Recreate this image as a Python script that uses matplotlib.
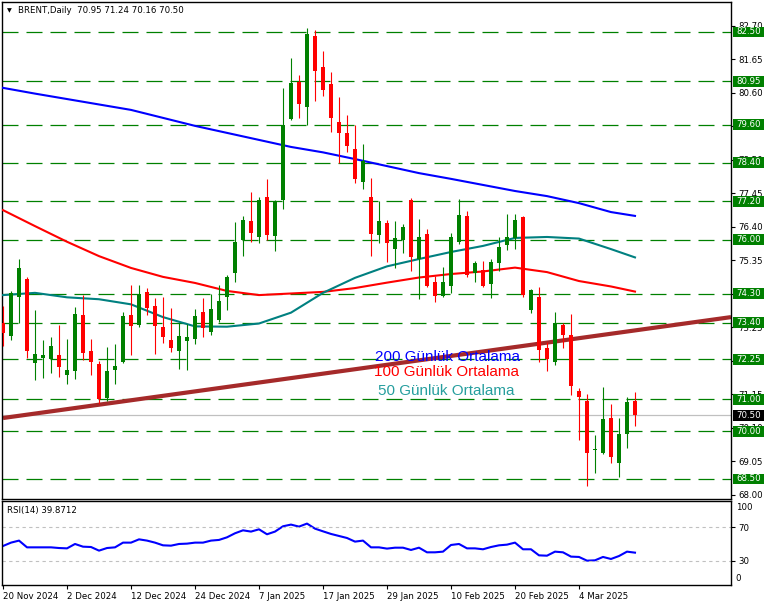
import numpy as np
import matplotlib.pyplot as plt
import matplotlib.transforms as mtransforms
from matplotlib.patches import Rectangle

# daily candles, 20 Nov 2024 .. 13 Mar 2025
opens = [73.38, 72.99, 74.21, 74.76, 72.14, 72.30, 72.27, 72.37, 71.77, 71.89,
         73.64, 72.51, 72.10, 71.03, 71.92, 72.17, 73.64, 73.33, 74.36, 73.92,
         73.26, 72.85, 72.52, 72.83, 72.89, 73.73, 73.11, 73.49, 74.21, 74.94,
         75.99, 76.58, 76.09, 77.34, 76.11, 77.24, 79.77, 80.93, 80.16, 82.37,
         81.40, 80.87, 79.68, 79.34, 78.83, 77.81, 77.33, 76.14, 76.52, 75.71,
         75.99, 77.24, 75.38, 76.17, 74.68, 74.23, 74.54, 75.93, 76.74, 74.94,
         75.05, 74.61, 75.27, 75.83, 76.04, 76.70, 73.79, 74.21, 72.60, 72.17,
         73.32, 73.01, 71.26, 70.95, 69.41, 69.32, 70.42, 69.01, 69.92, 70.95]
highs = [73.92, 74.39, 75.39, 74.83, 73.79, 72.85, 72.95, 73.32, 72.88, 73.89,
         74.26, 72.88, 72.20, 72.63, 72.73, 73.73, 74.58, 74.58, 74.48, 74.17,
         74.20, 73.86, 73.38, 73.35, 73.82, 74.17, 74.29, 74.58, 74.89, 76.56,
         76.74, 77.50, 77.33, 77.90, 77.24, 80.75, 81.68, 81.15, 82.62, 82.56,
         81.90, 81.25, 80.46, 79.90, 79.59, 78.99, 77.92, 77.21, 76.62, 76.58,
         76.49, 77.29, 76.63, 76.32, 74.86, 75.13, 76.19, 77.27, 76.90, 75.34,
         75.34, 75.38, 76.09, 76.80, 76.80, 76.74, 74.45, 74.51, 72.80, 73.72,
         73.38, 73.67, 71.35, 71.15, 69.88, 71.39, 70.85, 70.42, 71.08, 71.24]
lows = [72.67, 72.85, 73.38, 72.30, 71.61, 71.67, 71.83, 71.70, 71.48, 71.64,
        72.23, 71.77, 70.85, 70.95, 71.48, 72.14, 72.38, 73.27, 73.65, 72.42,
        72.77, 72.49, 71.95, 71.92, 72.74, 72.96, 73.01, 73.42, 73.80, 74.68,
        75.49, 75.91, 75.89, 75.99, 75.65, 76.96, 79.74, 79.82, 79.59, 80.35,
        80.50, 79.38, 78.39, 78.75, 77.76, 77.57, 75.48, 75.88, 75.31, 75.12,
        75.57, 75.02, 74.13, 74.52, 74.05, 74.20, 74.33, 75.85, 74.84, 74.67,
        74.52, 74.16, 75.02, 75.67, 75.69, 74.20, 73.69, 72.17, 71.89, 72.07,
        72.59, 71.13, 69.72, 68.28, 68.70, 69.27, 69.01, 68.57, 69.46, 70.16]
closes = [73.06, 74.32, 75.12, 72.52, 72.41, 72.38, 72.67, 72.02, 71.91, 73.67,
          72.46, 72.17, 71.00, 71.88, 72.04, 73.60, 73.30, 74.28, 73.86, 73.30,
          72.96, 72.61, 72.98, 72.95, 73.60, 73.24, 73.82, 74.07, 74.84, 75.91,
          76.61, 76.21, 77.24, 76.14, 77.21, 79.59, 80.91, 80.25, 82.45, 81.29,
          80.69, 79.82, 79.35, 78.94, 77.89, 78.46, 76.17, 76.58, 75.90, 76.05,
          76.39, 75.44, 76.08, 74.54, 74.23, 74.68, 76.09, 76.77, 74.89, 75.27,
          74.54, 75.29, 75.76, 76.07, 76.61, 74.26, 74.42, 72.54, 72.26, 73.38,
          73.01, 71.41, 71.08, 69.32, 69.44, 70.38, 69.20, 69.91, 70.91, 70.50]

# moving averages, read every 4th bar
ma_idx = [0, 4, 8, 12, 16, 20, 24, 28, 32, 36, 40, 44, 48, 52, 56, 60, 64, 68, 72, 76, 79]
ma200 = [80.75, 80.57, 80.40, 80.23, 80.06, 79.81, 79.56, 79.34, 79.12, 78.90, 78.73,
         78.52, 78.30, 78.08, 77.90, 77.71, 77.52, 77.36, 77.14, 76.86, 76.74]
ma100 = [76.92, 76.42, 75.93, 75.48, 75.11, 74.83, 74.64, 74.39, 74.26, 74.31, 74.36,
         74.48, 74.65, 74.81, 74.92, 75.00, 75.12, 74.98, 74.70, 74.53, 74.37]
ma50 = [74.26, 74.33, 74.19, 74.13, 73.97, 73.57, 73.28, 73.27, 73.37, 73.71, 74.33,
        74.80, 75.16, 75.39, 75.61, 75.80, 76.05, 76.08, 76.03, 75.70, 75.44]

rsi = [47.8, 51.8, 54.2, 46.2, 46.2, 46.2, 46.2, 45.4, 45.0, 50.2,
       47.0, 46.6, 42.3, 45.4, 46.2, 51.8, 51.8, 55.7, 54.2, 51.8,
       48.6, 48.2, 50.2, 50.6, 51.8, 51.8, 54.2, 55.0, 58.1, 62.9,
       66.4, 64.9, 67.6, 61.7, 64.9, 71.2, 73.2, 70.8, 74.4, 68.4,
       65.2, 62.1, 59.7, 57.3, 53.0, 54.2, 46.2, 46.2, 44.7, 45.8,
       45.8, 43.1, 45.8, 40.3, 40.3, 41.1, 49.0, 50.2, 45.0, 45.0,
       43.9, 46.6, 48.6, 49.4, 51.8, 43.9, 43.9, 36.7, 36.3, 41.1,
       40.3, 35.2, 34.8, 30.4, 30.8, 34.8, 32.4, 35.9, 41.1, 39.9]

date_ticks = [0, 8, 16, 24, 32, 40, 48, 56, 64, 72]
date_labels = ['20 Nov 2024', '2 Dec 2024', '12 Dec 2024', '24 Dec 2024', '7 Jan 2025',
               '17 Jan 2025', '29 Jan 2025', '10 Feb 2025', '20 Feb 2025', '4 Mar 2025']

levels = [82.50, 80.95, 79.60, 78.40, 77.20, 76.00, 74.30, 73.40, 72.25, 71.00, 70.00, 68.50]
last_price = 70.50
price_ticks = [68.00, 69.05, 70.10, 71.15, 72.20, 73.25, 74.30, 75.35, 76.40,
               77.45, 78.50, 79.55, 80.60, 81.65, 82.70]
trend_x = [0, 91]
trend_y = [70.41, 73.57]

GREEN = '#008000'
RED = '#ff0000'
small = dict(family='DejaVu Sans', size=6.2)

fig = plt.figure(figsize=(7.71, 6.07), dpi=100)
ax = fig.add_axes([0.00298, 0.17743, 0.94553, 0.81878])
ax2 = fig.add_axes([0.00298, 0.03575, 0.94553, 0.13888])

x = np.arange(len(closes))
o = np.array(opens); c = np.array(closes)
cols = [GREEN if cc >= oo else RED for oo, cc in zip(opens, closes)]

# horizontal levels + current price
for lv in levels:
    ax.axhline(lv, color=GREEN, lw=0.9, ls=(0, (12.8, 6.4)), zorder=1)
ax.axhline(last_price, color='#c0c0c0', lw=0.9, zorder=1)

# trend line and moving averages
ax.plot(trend_x, trend_y, color='#a52a2a', lw=3, zorder=2, solid_capstyle='butt')
ax.plot(ma_idx, ma200, color='#0000ff', lw=1.5, zorder=3)
ax.plot(ma_idx, ma100, color=RED, lw=1.5, zorder=3)
ax.plot(ma_idx, ma50, color='#008080', lw=1.5, zorder=3)

# candles
ax.vlines(x, lows, highs, colors=cols, lw=0.8, zorder=5)
ax.bar(x, np.maximum(np.abs(c - o), 0.035), bottom=np.minimum(o, c), width=0.6,
       color=cols, linewidth=0, zorder=6)

# text objects on the chart
big = dict(family='Liberation Sans', size=11, va='center', ha='left', zorder=8)
ax.text(46.5, 72.31, '200 Günlük Ortalama', color='#0000ff', **big)
ax.text(46.4, 71.84, '100 Günlük Ortalama', color=RED, **big)
ax.text(46.9, 71.27, '50 Günlük Ortalama', color='#269e9e', **big)

ax.text(0.022, 0.983, 'BRENT,Daily  70.95 71.24 70.16 70.50', transform=ax.transAxes,
        va='center', ha='left', color='black', **small)
ax.text(0.0065, 0.983, '\u25bc', transform=ax.transAxes, va='center', ha='left',
        color='black', family='DejaVu Sans', size=4.5)

ax.set_xlim(-0.09, 91.04)
ax.set_ylim(67.864, 83.43)
ax.set_xticks([])
ax.yaxis.tick_right()
ax.set_yticks(price_ticks)
ax.set_yticklabels([f'{t:.2f}' for t in price_ticks], **small)
ax.tick_params(axis='y', direction='out', length=3, width=0.8, pad=2)
for s in ax.spines.values():
    s.set_linewidth(1.0)

# level labels on the price scale
blend = mtransforms.blended_transform_factory(ax.transAxes, ax.transData)
box_h = 0.34
for lv in levels + [last_price]:
    fc = 'black' if lv == last_price else GREEN
    ax.add_patch(Rectangle((1.002, lv - box_h / 2), 0.043, box_h, transform=blend,
                           facecolor=fc, edgecolor='none', clip_on=False, zorder=10))
    ax.text(1.0235, lv, f'{lv:.2f}', transform=blend, ha='center', va='center',
            color='white', clip_on=False, zorder=11, **small)

# RSI panel
ax2.plot(x, rsi, color='#0000ff', lw=1.5)
for lv in [70, 30]:
    ax2.axhline(lv, color='#c0c0c0', lw=0.8, ls=(0, (3, 3)))
ax2.set_xlim(-0.09, 91.04)
ax2.set_ylim(1.16, 101.2)
ax2.yaxis.tick_right()
ax2.set_yticks([70, 30])
ax2.set_yticklabels(['70', '30'], **small)
ax2.text(1.006, 0.917, '100', transform=ax2.transAxes, va='center', ha='left', **small)
ax2.text(1.006, 0.075, '0', transform=ax2.transAxes, va='center', ha='left', **small)
ax2.tick_params(axis='y', direction='out', length=3, width=0.8, pad=2)
ax2.set_xticks(date_ticks)
ax2.set_xticklabels(date_labels, ha='left', **small)
ax2.tick_params(axis='x', direction='out', length=3, width=0.8, pad=1.5)
ax2.text(0.0065, 0.893, 'RSI(14) 39.8712', transform=ax2.transAxes, va='center',
         ha='left', color='black', **small)
for s in ax2.spines.values():
    s.set_linewidth(1.0)

fig.savefig('out.png', dpi=100)
